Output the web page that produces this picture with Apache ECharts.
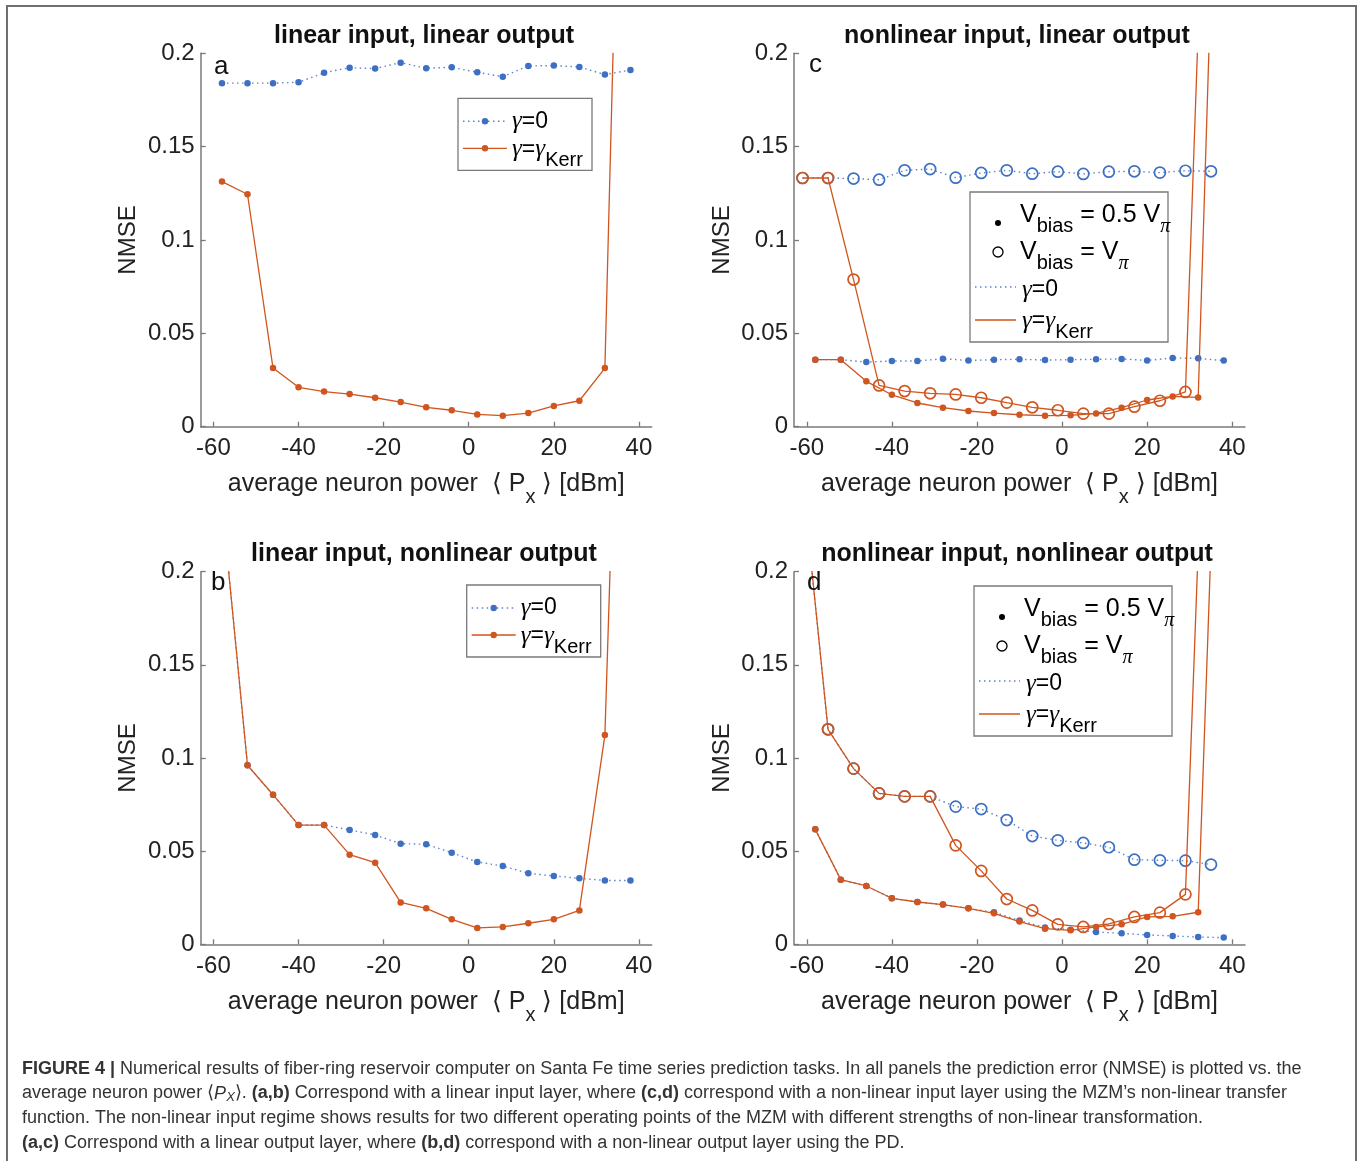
<!DOCTYPE html>
<html>
<head>
<meta charset="utf-8">
<script src="https://cdn.jsdelivr.net/npm/echarts@6/dist/echarts.min.js"></script>
<style>
    html, body { margin: 0; padding: 0; background: #fff; }
    #main { width: 1360px; height: 1161px; }
</style>
</head>
<body>
<div id="main"></div>
<script>
// x positions (dBm): filled dots use V_bias = 0.5 V_pi, rings use V_bias = V_pi
var xDots = [-58, -52, -46, -40, -34, -28, -22, -16, -10, -4, 2, 8, 14, 20, 26, 32, 38];
var xRings = [-61, -55, -49, -43, -37, -31, -25, -19, -13, -7, -1, 5, 11, 17, 23, 29, 35];

var xTicks = [-60, -40, -20, 0, 20, 40];
var yTicks = [0, 0.05, 0.1, 0.15, 0.2];

// panel a: linear input, linear output
var aGamma0 = [0.1840, 0.1840, 0.1840, 0.1845, 0.1896, 0.1923, 0.1918, 0.1950, 0.1920, 0.1925, 0.1898, 0.1875, 0.1932, 0.1934, 0.1927, 0.1886, 0.1911];
var aKerr = [0.1313, 0.1245, 0.0314, 0.0211, 0.0188, 0.0175, 0.0155, 0.0132, 0.0104, 0.0088, 0.0066, 0.0059, 0.0073, 0.0111, 0.0139, 0.0314, 0.56];

// panel b: linear input, nonlinear output
var bGamma0 = [0.237, 0.0961, 0.0803, 0.0640, 0.0640, 0.0614, 0.0587, 0.0540, 0.0537, 0.0492, 0.0442, 0.0420, 0.0381, 0.0367, 0.0354, 0.0343, 0.0342];
var bKerr = [0.237, 0.0961, 0.0803, 0.0640, 0.0640, 0.0481, 0.0438, 0.0225, 0.0193, 0.0134, 0.0088, 0.0093, 0.0113, 0.0134, 0.0182, 0.1123, 0.55];

// panel c: nonlinear input, linear output
var cGamma0Half = [0.0359, 0.0359, 0.0346, 0.0352, 0.0352, 0.0364, 0.0355, 0.0359, 0.0361, 0.0357, 0.0359, 0.0361, 0.0363, 0.0355, 0.0368, 0.0366, 0.0354];
var cKerrHalf = [0.0359, 0.0359, 0.0243, 0.0171, 0.0127, 0.0102, 0.0084, 0.0073, 0.0064, 0.0059, 0.0061, 0.0071, 0.0102, 0.0143, 0.0162, 0.0157, 0.458];
var cGamma0Full = [0.1332, 0.1332, 0.1329, 0.1323, 0.1373, 0.1380, 0.1334, 0.1359, 0.1373, 0.1355, 0.1366, 0.1354, 0.1366, 0.1368, 0.1361, 0.1371, 0.1368];
var cKerrFull = [0.1332, 0.1332, 0.0788, 0.0221, 0.0191, 0.0179, 0.0173, 0.0155, 0.0129, 0.0104, 0.0088, 0.0070, 0.0070, 0.0107, 0.0139, 0.0186, 0.407];

// panel d: nonlinear input, nonlinear output
var dGamma0Half = [0.0617, 0.0347, 0.0313, 0.0247, 0.0227, 0.0213, 0.0193, 0.0172, 0.0128, 0.0090, 0.0078, 0.0066, 0.0059, 0.0050, 0.0045, 0.0039, 0.0036];
var dKerrHalf = [0.0617, 0.0347, 0.0313, 0.0247, 0.0227, 0.0213, 0.0193, 0.0166, 0.0122, 0.0084, 0.0075, 0.0093, 0.0107, 0.0147, 0.0150, 0.0172, 0.409];
var dGamma0Full = [0.25, 0.1154, 0.0943, 0.0810, 0.0794, 0.0794, 0.0739, 0.0726, 0.0667, 0.0581, 0.0558, 0.0544, 0.0521, 0.0454, 0.0451, 0.0449, 0.0428];
var dKerrFull = [0.25, 0.1154, 0.0943, 0.0810, 0.0794, 0.0794, 0.0531, 0.0394, 0.0243, 0.0182, 0.0107, 0.0093, 0.0109, 0.0147, 0.0170, 0.0268, 0.398];

var FONT = '"Liberation Sans", Arial, Helvetica, sans-serif';
var SERIF = '"Liberation Serif", "DejaVu Serif", serif';
var BLUE = '#3d6fc2';
var ORANGE = '#d0551f';
var AXIS = '#7a7a7a';
var TXT = '#222222';

var myChart = echarts.init(document.getElementById('main'));

// grid order: a, c, b, d
var grids = [
    {left: 200.7, top: 53.3, width: 451, height: 373.4},
    {left: 794, top: 53.3, width: 451, height: 373.4},
    {left: 200.7, top: 571.7, width: 451, height: 372.6},
    {left: 794, top: 571.7, width: 451, height: 372.6}
];

var nameRich = {
    n: {fontSize: 25, fontFamily: FONT, color: TXT, lineHeight: 30},
    s: {fontSize: 20, fontFamily: FONT, color: TXT, lineHeight: 30, padding: [26, 0, 0, 0]}
};

function makeX(i) {
    return {
        type: 'value', gridIndex: i, min: -63, max: 43,
        axisLine: {show: true, onZero: false, lineStyle: {color: AXIS, width: 1.5}},
        axisTick: {show: true, inside: true, length: 5, customValues: xTicks, lineStyle: {color: AXIS, width: 1.3}},
        axisLabel: {customValues: xTicks, fontSize: 24, fontFamily: FONT, color: TXT, margin: 10},
        splitLine: {show: false},
        name: '{n|average neuron power  \u27e8 P}{s|x}{n| \u27e9 [dBm]}',
        nameLocation: 'middle', nameGap: 40,
        nameTextStyle: {rich: nameRich}
    };
}

function makeY(i) {
    return {
        type: 'value', gridIndex: i, min: 0, max: 0.2, interval: 0.05,
        axisLine: {show: true, onZero: false, lineStyle: {color: AXIS, width: 1.5}},
        axisTick: {show: true, inside: true, length: 5, lineStyle: {color: AXIS, width: 1.3}},
        axisLabel: {fontSize: 24, fontFamily: FONT, color: TXT, margin: 6},
        splitLine: {show: false},
        name: 'NMSE', nameLocation: 'middle', nameRotate: 90, nameGap: 60,
        nameTextStyle: {fontSize: 24, fontFamily: FONT, color: TXT}
    };
}

function pairs(xs, ys) {
    var out = [];
    for (var i = 0; i < xs.length; i++) {
        out.push([xs[i], ys[i]]);
    }
    return out;
}

function ser(idx, xs, ys, color, dotted, ring, z) {
    return {
        type: 'line', xAxisIndex: idx, yAxisIndex: idx,
        data: pairs(xs, ys),
        symbol: 'circle', symbolSize: ring ? 11 : 6.5,
        clip: true, z: z,
        lineStyle: {color: color, width: dotted ? 1.4 : 1.3, type: dotted ? [1.5, 3.5] : 'solid', opacity: dotted ? 0.85 : 1},
        itemStyle: ring ? {color: 'rgba(255,255,255,0)', borderColor: color, borderWidth: 1.7} : {color: color},
        emphasis: {disabled: true}
    };
}

// legend helpers (drawn as graphic elements)
var legRich = {
    n: {fontSize: 23, fontFamily: FONT, color: TXT, lineHeight: 28},
    g: {fontSize: 25, fontFamily: SERIF, fontStyle: 'italic', color: TXT, lineHeight: 28},
    s: {fontSize: 20, fontFamily: FONT, color: TXT, lineHeight: 28, padding: [23, 0, 0, 0]},
    p: {fontSize: 20, fontFamily: SERIF, fontStyle: 'italic', color: TXT, lineHeight: 28, padding: [23, 0, 0, 0]},
    v: {fontSize: 25, fontFamily: FONT, color: TXT, lineHeight: 28}
};

function legendSimple(x0, y0) {
    var w = 134, h = 72;
    var y1 = y0 + 23, y2 = y0 + 50;
    return [
        {type: 'rect', shape: {x: x0, y: y0, width: w, height: h}, style: {fill: '#fff', stroke: AXIS, lineWidth: 1.3}, z: 20},
        {type: 'line', shape: {x1: x0 + 5, y1: y1, x2: x0 + 49, y2: y1}, style: {stroke: BLUE, lineWidth: 1.4, lineDash: [1.5, 3.5], opacity: 0.85}, z: 21},
        {type: 'circle', shape: {cx: x0 + 27, cy: y1, r: 3.2}, style: {fill: BLUE}, z: 22},
        {type: 'text', x: x0 + 54, y: y1, style: {text: '{g|\u03b3}{n|=0}', rich: legRich, verticalAlign: 'middle', align: 'left'}, z: 22},
        {type: 'line', shape: {x1: x0 + 5, y1: y2, x2: x0 + 49, y2: y2}, style: {stroke: ORANGE, lineWidth: 1.3}, z: 21},
        {type: 'circle', shape: {cx: x0 + 27, cy: y2, r: 3.2}, style: {fill: ORANGE}, z: 22},
        {type: 'text', x: x0 + 54, y: y2 + 1, style: {text: '{g|\u03b3}{n|=}{g|\u03b3}{s|Kerr}', rich: legRich, verticalAlign: 'middle', align: 'left'}, z: 22}
    ];
}

function legendBias(x0, y0) {
    var w = 198, h = 150;
    return [
        {type: 'rect', shape: {x: x0, y: y0, width: w, height: h}, style: {fill: '#fff', stroke: AXIS, lineWidth: 1.3}, z: 20},
        {type: 'circle', shape: {cx: x0 + 28, cy: y0 + 31, r: 3}, style: {fill: '#000'}, z: 22},
        {type: 'text', x: x0 + 50, y: y0 + 23, style: {text: '{v|V}{s|bias}{v| = 0.5 V}{p|\u03c0}', rich: legRich, verticalAlign: 'middle', align: 'left'}, z: 22},
        {type: 'circle', shape: {cx: x0 + 28, cy: y0 + 60, r: 5}, style: {fill: 'none', stroke: '#000', lineWidth: 1.3}, z: 22},
        {type: 'text', x: x0 + 50, y: y0 + 60, style: {text: '{v|V}{s|bias}{v| = V}{p|\u03c0}', rich: legRich, verticalAlign: 'middle', align: 'left'}, z: 22},
        {type: 'line', shape: {x1: x0 + 5, y1: y0 + 95, x2: x0 + 46, y2: y0 + 95}, style: {stroke: BLUE, lineWidth: 1.4, lineDash: [1.5, 3.5], opacity: 0.85}, z: 21},
        {type: 'text', x: x0 + 52, y: y0 + 98, style: {text: '{g|\u03b3}{n|=0}', rich: legRich, verticalAlign: 'middle', align: 'left'}, z: 22},
        {type: 'line', shape: {x1: x0 + 5, y1: y0 + 128, x2: x0 + 46, y2: y0 + 128}, style: {stroke: ORANGE, lineWidth: 1.3}, z: 21},
        {type: 'text', x: x0 + 52, y: y0 + 129, style: {text: '{g|\u03b3}{n|=}{g|\u03b3}{s|Kerr}', rich: legRich, verticalAlign: 'middle', align: 'left'}, z: 22}
    ];
}

function letter(t, x, y) {
    return {type: 'text', x: x, y: y, style: {text: t, fontSize: 26, fontFamily: FONT, fill: '#111', verticalAlign: 'middle', align: 'left'}, z: 22};
}

var capRich = {
    b: {fontSize: 18, fontFamily: FONT, fontWeight: 'bold', color: '#2b2b2b'},
    i: {fontSize: 18, fontFamily: FONT, fontStyle: 'italic', color: '#2b2b2b'},
    is: {fontSize: 13, fontFamily: FONT, fontStyle: 'italic', color: '#2b2b2b', padding: [8, 0, 0, 0]}
};
var captionLines = [
    '{b|FIGURE 4 | }Numerical results of fiber-ring reservoir computer on Santa Fe time series prediction tasks. In all panels the prediction error (NMSE) is plotted vs. the',
    'average neuron power \u27e8{i|P}{is|X}\u27e9. {b|(a,b)} Correspond with a linear input layer, where {b|(c,d)} correspond with a non-linear input layer using the MZM\u2019s non-linear transfer',
    'function. The non-linear input regime shows results for two different operating points of the MZM with different strengths of non-linear transformation.',
    '{b|(a,c)} Correspond with a linear output layer, where {b|(b,d)} correspond with a non-linear output layer using the PD.'
];
var captionY = [1069, 1093.5, 1118, 1143];

var graphics = [
    {type: 'polyline', shape: {points: [[7, 1161], [7, 6], [1356, 6], [1356, 1161]]}, style: {fill: 'none', stroke: '#6f6f6f', lineWidth: 2}, z: 1}
];
graphics = graphics.concat(legendSimple(458, 98.3));
graphics = graphics.concat(legendSimple(466.7, 585));
graphics = graphics.concat(legendBias(970, 192));
graphics = graphics.concat(legendBias(974, 586));
graphics.push(letter('a', 214, 67));
graphics.push(letter('c', 809, 65));
graphics.push(letter('b', 211, 583));
graphics.push(letter('d', 807, 583));
for (var k = 0; k < captionLines.length; k++) {
    graphics.push({
        type: 'text', x: 22, y: captionY[k], z: 22,
        style: {text: captionLines[k], rich: capRich, fontSize: 18, fontFamily: FONT, fill: '#333333', verticalAlign: 'middle', align: 'left'}
    });
}

function makeTitle(t, cx, top) {
    return {
        text: t, left: cx, top: top, textAlign: 'center', padding: 0,
        textStyle: {fontSize: 25, fontWeight: 'bold', fontFamily: FONT, color: '#111'}
    };
}

var option = {
    animation: false,
    backgroundColor: '#fff',
    title: [
        makeTitle('linear input, linear output', 424, 24),
        makeTitle('nonlinear input, linear output', 1017, 24),
        makeTitle('linear input, nonlinear output', 424, 542),
        makeTitle('nonlinear input, nonlinear output', 1017, 542)
    ],
    grid: grids,
    xAxis: [makeX(0), makeX(1), makeX(2), makeX(3)],
    yAxis: [makeY(0), makeY(1), makeY(2), makeY(3)],
    series: [
        // a
        ser(0, xDots, aGamma0, BLUE, true, false, 2),
        ser(0, xDots, aKerr, ORANGE, false, false, 3),
        // c
        ser(1, xDots, cGamma0Half, BLUE, true, false, 2),
        ser(1, xRings, cGamma0Full, BLUE, true, true, 2),
        ser(1, xDots, cKerrHalf, ORANGE, false, false, 3),
        ser(1, xRings, cKerrFull, ORANGE, false, true, 3),
        // b
        ser(2, xDots, bGamma0, BLUE, true, false, 2),
        ser(2, xDots, bKerr, ORANGE, false, false, 3),
        // d
        ser(3, xDots, dGamma0Half, BLUE, true, false, 2),
        ser(3, xRings, dGamma0Full, BLUE, true, true, 2),
        ser(3, xDots, dKerrHalf, ORANGE, false, false, 3),
        ser(3, xRings, dKerrFull, ORANGE, false, true, 3)
    ],
    graphic: graphics
};

myChart.setOption(option);
</script>
</body>
</html>
